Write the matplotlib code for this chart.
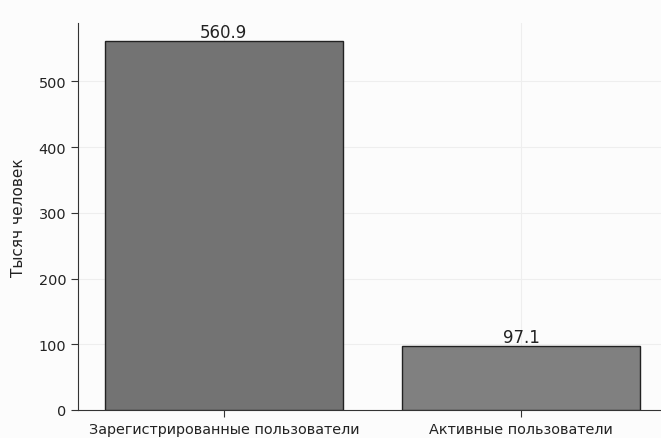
import matplotlib
matplotlib.use('Agg')
import matplotlib.pyplot as plt

plt.rcParams['font.family'] = ['DejaVu Sans']

categories = ['Зарегистрированные пользователи', 'Активные пользователи']
values = [560.9, 97.1]
colors = ['#737373', '#808080']

fig = plt.figure(figsize=(6.61, 4.39), dpi=100, facecolor='#fcfcfc')
ax = fig.add_axes([78 / 661, 28 / 439, 589 / 661, 387 / 439])
ax.set_facecolor('#fcfcfc')

bars = ax.bar(categories, values, color=colors, edgecolor='#222222', linewidth=1, width=0.8, zorder=3)
for b, v in zip(bars, values):
    ax.text(b.get_x() + b.get_width() / 2, v, f'{v:.1f}', ha='center', va='bottom', fontsize=12, color='#222222', zorder=4)

ax.set_ylabel('Тысяч человек', fontsize=11, color='#222222', labelpad=9)
ax.set_ylim(0, 589)
ax.set_xlim(-0.49, 1.49)
ax.grid(True, color='#eeeeee', linewidth=0.8, zorder=0)
ax.spines['top'].set_visible(False)
ax.spines['right'].set_visible(False)
ax.spines['left'].set_color('#333333')
ax.spines['bottom'].set_color('#333333')
ax.tick_params(labelsize=10.4, colors='#333333', labelcolor='#222222', length=5)
ax.tick_params(axis='x', pad=4)

fig.savefig('out.png', dpi=100, facecolor=fig.get_facecolor())
